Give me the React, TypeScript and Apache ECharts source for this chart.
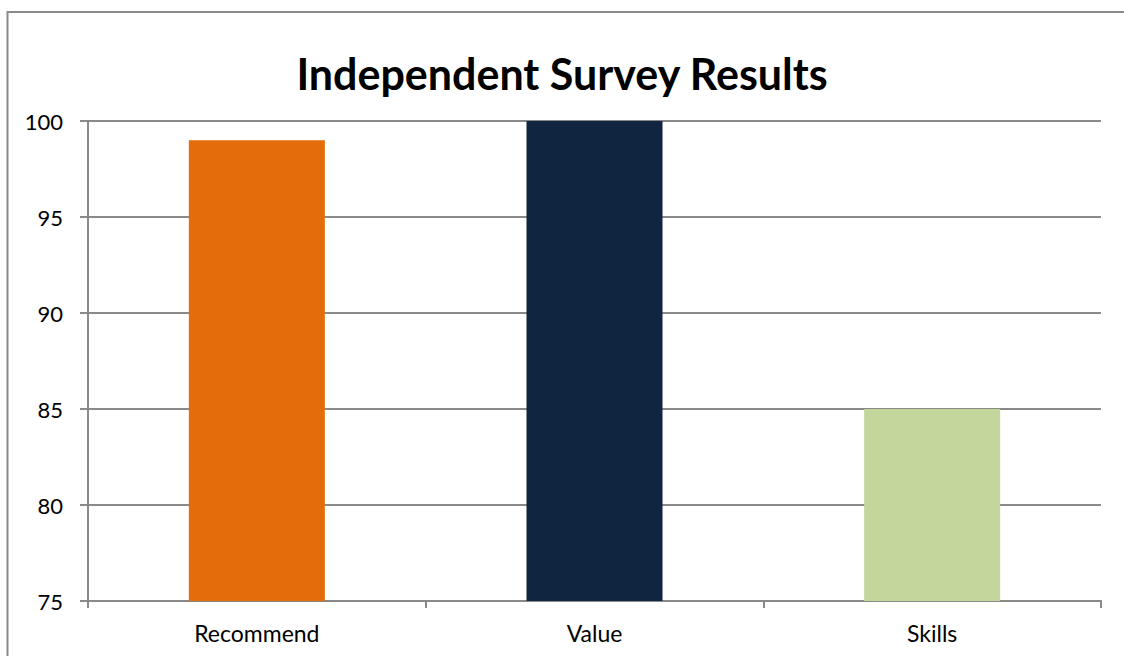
import React, { useEffect, useRef } from "react";
import * as echarts from "echarts";

const categories = ["Recommend", "Value", "Skills"];
const values = [99, 100, 85];
const barColors = ["#E46C0A", "#10253F", "#C3D69B"];
const yTicks = { min: 75, max: 100, interval: 5 };
const title = "Independent Survey Results";

const FONT = "'Lato', 'Open Sans', 'Liberation Sans', sans-serif";

export default function App() {
  const ref = useRef<HTMLDivElement>(null);
  useEffect(() => {
    if (!ref.current) return;
    const chart = echarts.init(ref.current, null, { renderer: "svg" });
    chart.setOption({
      animation: false,
      backgroundColor: "#ffffff",
      title: {
        text: title,
        left: "center",
        top: 47,
        textStyle: { fontFamily: FONT, fontWeight: "bold", fontSize: 43, color: "#000" },
      },
      graphic: [
        {
          type: "line",
          shape: { x1: 7.5, y1: 12, x2: 1140, y2: 12 },
          style: { stroke: "#8a8a8a", lineWidth: 2 },
          silent: true,
        },
        {
          type: "line",
          shape: { x1: 7.5, y1: 11, x2: 7.5, y2: 670 },
          style: { stroke: "#8a8a8a", lineWidth: 2 },
          silent: true,
        },
      ],
      grid: { left: 88, right: 23, top: 121, bottom: 55, containLabel: false },
      xAxis: {
        type: "category",
        data: categories,
        axisLine: { show: true, lineStyle: { color: "#898989", width: 2 } },
        axisTick: { show: true, alignWithLabel: false, length: 7, lineStyle: { color: "#898989", width: 2 } },
        axisLabel: { fontFamily: FONT, fontSize: 23, color: "#000", margin: 20 },
      },
      yAxis: {
        type: "value",
        min: yTicks.min,
        max: yTicks.max,
        interval: yTicks.interval,
        axisLine: { show: true, lineStyle: { color: "#898989", width: 2 } },
        axisTick: { show: true, inside: false, length: 8, lineStyle: { color: "#898989", width: 2 } },
        axisLabel: { fontFamily: FONT, fontSize: 22, color: "#000", margin: 25 },
        splitLine: { show: true, lineStyle: { color: "#898989", width: 2 } },
      },
      series: [
        {
          type: "bar",
          data: values.map((v, i) => ({ value: v, itemStyle: { color: barColors[i] } })),
          barWidth: 136,
        },
      ],
    });
    return () => chart.dispose();
  }, []);
  return (
    <div
      ref={ref}
      style={{ position: "fixed", left: 0, top: 0, width: 1124, height: 656, overflow: "hidden" }}
    />
  );
}
